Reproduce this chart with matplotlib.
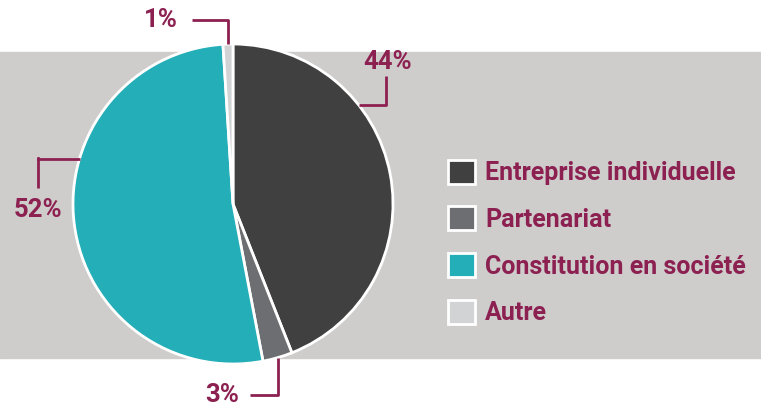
import matplotlib.pyplot as plt
import numpy as np

categories = ["Entreprise individuelle", "Partenariat", "Constitution en société", "Autre"]
shares = [44, 3, 52, 1]
pct_labels = ["44%", "3%", "52%", "1%"]
colors = ["#404040", "#6d6e71", "#23aeb8", "#d1d3d4"]

maroon = "#8c2151"
band = "#cfcdcc"
W, H = 761, 407

plt.rcParams['font.family'] = ['Roboto', 'DejaVu Sans']

fig = plt.figure(figsize=(W / 100, H / 100), dpi=100)
ax = fig.add_axes([0, 0, 1, 1])

# grey band behind pie and legend (pixel rows 52..358)
ax.axhspan(H - 358, H - 52, color=band, zorder=0)

cx, cy, r = 233, H - 204, 160
wedges, _ = ax.pie(shares, colors=colors, startangle=90, counterclock=False,
                   center=(cx, cy), radius=r, frame=True,
                   wedgeprops=dict(edgecolor="white", linewidth=2))
ax.set_xlim(0, W)
ax.set_ylim(0, H)
ax.axis('off')

# leader lines: rim angle (None = wedge middle), elbow, line end, text centre
leaders = {
    "44%": (38, (386, 105), (386, 76), (388, 62)),
    "3%": (None, (277, 395), (250, 395), (222, 395)),
    "52%": (163.5, (38, 158), (38, 188), (38, 210)),
    "1%": (None, (228, 20), (192, 20), (161, 20)),
}
for w, lab in zip(wedges, pct_labels):
    ang, elbow, end, txt = leaders[lab]
    if ang is None:
        ang = (w.theta1 + w.theta2) / 2
    a = np.deg2rad(ang)
    x0, y0 = cx + r * np.cos(a), cy + r * np.sin(a)
    ex, ey = elbow[0], H - elbow[1]
    if lab in ("44%", "52%"):
        pts = [(x0, y0), (ex, y0), (ex, ey), (end[0], H - end[1])]
    else:
        pts = [(x0, y0), (x0, ey), (end[0], H - end[1])]
    xs, ys = zip(*pts)
    ax.plot(xs, ys, color=maroon, lw=2, solid_capstyle='butt', zorder=3)
    ax.text(txt[0], H - txt[1], lab, color=maroon, fontsize=18.5, fontweight='bold',
            ha='center', va='center')

leg = ax.legend(wedges, categories, loc='upper left', bbox_to_anchor=(425 / W, 1 - 137 / H),
                frameon=False, handlelength=1.1, handleheight=1.1,
                handletextpad=0.4, labelspacing=0.85, labelcolor=maroon,
                prop=dict(weight='bold', size=18))
for h in leg.legend_handles:
    h.set_edgecolor("white")
    h.set_linewidth(2)

plt.savefig('out.png', dpi=100)
